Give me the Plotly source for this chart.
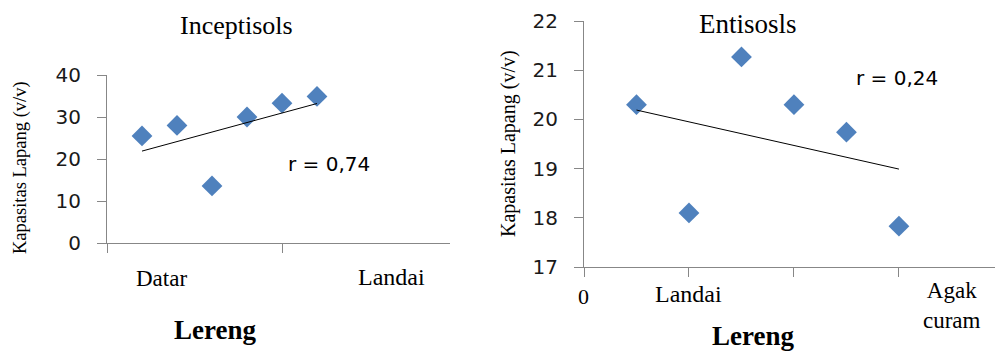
import numpy as np
import plotly.graph_objects as go

# ---- data ----
slope_pos = [1, 2, 3, 4, 5, 6]
incept_y = [25.5, 28.0, 13.6, 30.0, 33.3, 34.9]
entis_y = [20.3, 18.1, 21.27, 20.3, 19.74, 17.83]
incept_title = "Inceptisols"
entis_title = "Entisosls"
incept_r = "r = 0,74"
entis_r = "r = 0,24"
incept_xlabels = ["Datar", "Landai"]
entis_xlabels = ["0", "Landai", "Agak<br>curam"]
ytitle = "Kapasitas Lapang (v/v)"
xtitle = "Lereng"

W, H = 995, 351
def px(x):
    return x / W
def py(y):
    return 1 - y / H

SERIF = "Liberation Serif, Times New Roman, serif"
SANS = "DejaVu Sans, Verdana, sans-serif"
BLUE = "#4F81BD"
GRAY = "#878787"

fig = go.Figure()

# Inceptisols
fig.add_trace(go.Scatter(x=slope_pos, y=incept_y, mode="markers",
                         marker=dict(symbol="diamond", size=16, color=BLUE),
                         xaxis="x", yaxis="y", showlegend=False))
a, b = np.polyfit(slope_pos, incept_y, 1)
xs = [slope_pos[0], slope_pos[-1]]
fig.add_trace(go.Scatter(x=xs, y=[a * v + b for v in xs], mode="lines",
                         line=dict(color="black", width=1),
                         xaxis="x", yaxis="y", showlegend=False))

# Entisols
fig.add_trace(go.Scatter(x=slope_pos, y=entis_y, mode="markers",
                         marker=dict(symbol="diamond", size=16, color=BLUE),
                         xaxis="x2", yaxis="y2", showlegend=False))
a2, b2 = np.polyfit(slope_pos, entis_y, 1)
fig.add_trace(go.Scatter(x=xs, y=[a2 * v + b2 for v in xs], mode="lines",
                         line=dict(color="black", width=1),
                         xaxis="x2", yaxis="y2", showlegend=False))

axis_common = dict(showgrid=False, zeroline=False, showline=True, linecolor=GRAY,
                   linewidth=1, ticks="outside", tickcolor=GRAY, ticklen=9,
                   automargin=False)

fig.update_layout(
    template="none",
    width=W, height=H, margin=dict(l=0, r=0, t=0, b=0, pad=0),
    paper_bgcolor="white", plot_bgcolor="white",
    xaxis=dict(domain=[px(107), px(450)], range=[0, 9.8], tickvals=[0, 5],
               showticklabels=False, anchor="y", **axis_common),
    yaxis=dict(domain=[py(243), py(75)], range=[0, 40], tickvals=[0, 10, 20, 30, 40],
               tickfont=dict(family=SANS, size=20, color="#1a1a1a"),
               ticklabelstandoff=12, anchor="x", **axis_common),
    xaxis2=dict(domain=[px(584), 1.0], range=[0, 7.83], tickvals=[0, 2, 4, 6],
                showticklabels=False, anchor="y2", **axis_common),
    yaxis2=dict(domain=[py(267), py(21)], range=[17, 22], tickvals=[17, 18, 19, 20, 21, 22],
                tickfont=dict(family=SANS, size=20, color="#1a1a1a"),
                ticklabelstandoff=12, anchor="x2", **axis_common),
)

def ann(text, x, y, size, family=SERIF, angle=0, bold=False, xanchor="center"):
    if bold:
        text = "<b>" + text + "</b>"
    fig.add_annotation(text=text, x=px(x), y=py(y), xref="paper", yref="paper",
                       showarrow=False, xanchor=xanchor, yanchor="middle",
                       textangle=angle, font=dict(family=family, size=size, color="black"))

# left chart texts
ann(incept_title, 236, 25, 26)
ann(ytitle, 20, 168, 18.5, angle=-90)
ann(incept_r, 329, 164, 20, family=SANS)
ann(incept_xlabels[0], 161, 278, 23)
ann(incept_xlabels[1], 391, 277, 24)
ann(xtitle, 215, 330, 27, bold=True)

# right chart texts
ann(entis_title, 748, 24, 27)
ann(ytitle, 508, 143, 20, angle=-90)
ann(entis_r, 897, 78, 20, family=SANS)
ann(entis_xlabels[0], 583, 296, 22)
ann(entis_xlabels[1], 688, 294, 24)
fig.add_annotation(text=entis_xlabels[2], x=px(952), y=py(305), xref="paper", yref="paper",
                   showarrow=False, xanchor="center", yanchor="middle",
                   font=dict(family=SERIF, size=23, color="black"))
ann(xtitle, 753, 336, 27, bold=True)

fig.write_html("out.html", config={"displayModeBar": False},
               post_script="document.body.style.margin='0px';document.body.style.overflow='hidden';")
